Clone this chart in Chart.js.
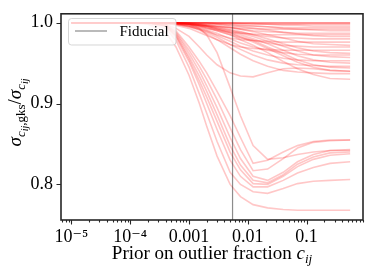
<!DOCTYPE html>
<html>
<head>
<meta charset="utf-8">
<script src="https://cdn.jsdelivr.net/npm/chart.js@4.4.1/dist/chart.umd.min.js"></script>
<style>html,body{margin:0;padding:0;background:#fff}</style>
</head>
<body>
<canvas id="ratioChart" width="374" height="273"></canvas>
<script>
// prior on outlier fraction (x grid)
var priors = [1e-5, 1e-4, 2e-4, 4e-4, 6e-4, 0.001, 0.0015, 0.002, 0.003, 0.005, 0.0075, 0.0123, 0.0217, 0.04, 0.07, 0.13, 0.25, 0.55];
var fiducialPrior = 0.0055;

var xTickValues = [1e-5, 1e-4, 1e-3, 1e-2, 1e-1];
var xTickLabels = ['10\u207B\u2075', '10\u207B\u2074', '0.001', '0.01', '0.1'];
var yTickValues = [0.8, 0.9, 1.0];
var yTickLabels = ['0.8', '0.9', '1.0'];

// pairs that barely move
var upperRatios = [
    [1,1,1,1,1,1,1,1,1,1,1,1,1,1,1,1,1,1],
    [1,1,1,1,1,1,1,1,1,1,1,1,1,1,1,1,1,1],
    [1,1,1,1,1,1,1,1,1,1,0.999,0.999,0.999,0.999,0.999,0.999,0.999,0.999],
    [1,1,1,1,1,1,1,1,0.999,0.999,0.999,0.999,0.998,0.998,0.998,0.998,0.998,0.998],
    [1,1,1,1,1,1,1,1,0.999,0.999,0.999,0.998,0.998,0.997,0.997,0.996,0.996,0.996],
    [1,1,1,1,1,1,0.999,0.999,0.998,0.997,0.996,0.996,0.995,0.994,0.994,0.994,0.994,0.994],
    [1,1,1,1,0.999,0.998,0.997,0.996,0.995,0.994,0.993,0.993,0.992,0.992,0.992,0.992,0.992,0.992],
    [1,1,1,1,1,1,0.999,0.999,0.999,0.998,0.997,0.996,0.995,0.993,0.992,0.991,0.990,0.990],
    [1,1,1,1,1,0.999,0.998,0.997,0.996,0.994,0.992,0.990,0.989,0.988,0.987,0.987,0.987,0.987],
    [1,1,1,1,0.999,0.997,0.995,0.993,0.991,0.988,0.987,0.986,0.985,0.985,0.985,0.985,0.985,0.985],
    [1,1,1,1,1,0.999,0.999,0.998,0.998,0.996,0.995,0.993,0.991,0.988,0.986,0.984,0.983,0.983],
    [1,1,1,1,0.999,0.998,0.997,0.996,0.993,0.990,0.988,0.985,0.983,0.981,0.981,0.980,0.980,0.980],
    [1,1,1,0.999,0.998,0.995,0.992,0.989,0.985,0.981,0.979,0.978,0.977,0.976,0.976,0.976,0.976,0.976],
    [1,1,1,1,1,0.999,0.998,0.997,0.996,0.994,0.992,0.989,0.985,0.981,0.977,0.974,0.973,0.972],
    [1,1,1,1,0.999,0.998,0.996,0.993,0.990,0.985,0.981,0.978,0.975,0.972,0.971,0.970,0.970,0.970],
    [1,1,1,0.999,0.997,0.993,0.988,0.984,0.979,0.973,0.970,0.968,0.967,0.966,0.966,0.966,0.966,0.966],
    [1,1,1,1,1,0.999,0.998,0.997,0.995,0.992,0.989,0.985,0.980,0.974,0.969,0.965,0.963,0.962],
    [1,1,1,1,0.999,0.997,0.994,0.991,0.987,0.980,0.975,0.970,0.966,0.963,0.961,0.960,0.960,0.960],
    [1,1,1,1,1,0.999,0.997,0.996,0.994,0.991,0.987,0.983,0.977,0.971,0.965,0.960,0.958,0.957],
    [1,1,1,1,0.999,0.996,0.993,0.990,0.984,0.977,0.971,0.965,0.960,0.956,0.954,0.953,0.953,0.953],
    [1,1,1,1,1,0.999,0.997,0.996,0.993,0.989,0.985,0.980,0.974,0.966,0.959,0.954,0.951,0.950],
    [1,1,1,0.999,0.998,0.996,0.992,0.988,0.982,0.973,0.967,0.960,0.954,0.950,0.948,0.947,0.946,0.946],
    [1,1,1,1,0.999,0.998,0.997,0.995,0.992,0.988,0.983,0.978,0.970,0.962,0.954,0.948,0.945,0.944],
    [1,1,1,1,0.999,0.998,0.996,0.995,0.992,0.987,0.982,0.976,0.968,0.959,0.951,0.945,0.941,0.940],
    [1,1,1,0.999,0.998,0.995,0.991,0.986,0.979,0.969,0.961,0.953,0.946,0.941,0.939,0.938,0.937,0.937],
    [1,1,1,1,0.999,0.998,0.996,0.994,0.990,0.985,0.979,0.972,0.963,0.952,0.943,0.936,0.931,0.930],
    [1,1,1,0.998,0.993,0.983,0.970,0.960,0.948,0.938,0.934,0.933,0.938,0.943,0.944,0.943,0.941,0.940]
];

// pairs that drop a lot around the fiducial prior
var lowerRatios = [
    [1,1,1,1,1,0.998,0.993,0.985,0.963,0.920,0.885,0.848,0.831,0.833,0.837,0.840,0.842,0.842],
    [1,1,1,0.998,0.990,0.970,0.952,0.938,0.915,0.885,0.858,0.826,0.830,0.840,0.848,0.853,0.855,0.855],
    [1,1,1,0.997,0.988,0.966,0.946,0.930,0.905,0.870,0.843,0.817,0.819,0.832,0.845,0.852,0.854,0.855],
    [1,1,1,0.997,0.987,0.962,0.940,0.922,0.895,0.858,0.832,0.810,0.805,0.815,0.828,0.837,0.842,0.843],
    [1,1,1,0.996,0.985,0.958,0.934,0.915,0.886,0.848,0.824,0.805,0.802,0.812,0.825,0.834,0.839,0.840],
    [1,1,1,0.996,0.984,0.955,0.928,0.908,0.878,0.840,0.818,0.801,0.800,0.810,0.822,0.831,0.836,0.838],
    [1,1,1,0.995,0.982,0.952,0.923,0.900,0.868,0.830,0.810,0.797,0.797,0.805,0.814,0.821,0.826,0.828],
    [1,1,0.999,0.993,0.978,0.945,0.912,0.888,0.853,0.815,0.800,0.791,0.789,0.795,0.801,0.804,0.805,0.806],
    [1,1,0.998,0.988,0.970,0.935,0.900,0.872,0.835,0.800,0.785,0.775,0.771,0.769,0.768,0.768,0.768,0.768]
];

var lineColor = 'rgba(255,0,0,0.22)';
var serif = "'Liberation Serif', 'DejaVu Serif', serif";

function makeDataset(values)
{
    return {
        data: values.map(function(v, i){ return {x: priors[i], y: v}; }),
        borderColor: lineColor,
        borderWidth: 1.6,
        pointRadius: 0,
        tension: 0,
        fill: false
    };
}

var datasets = [{
    label: 'Fiducial',
    data: [{x: fiducialPrior, y: 0.7}, {x: fiducialPrior, y: 1.1}],
    borderColor: 'rgba(0,0,0,0.45)',
    borderWidth: 1.2,
    pointRadius: 0,
    fill: false
}];
upperRatios.forEach(function(r){ datasets.push(makeDataset(r)); });
lowerRatios.forEach(function(r){ datasets.push(makeDataset(r)); });

// draws text pieces in a row: [text, font, baseline shift]
function drawPieces(ctx, pieces, cx, baseY)
{
    var total = 0;
    pieces.forEach(function(p){ ctx.font = p[1]; total += ctx.measureText(p[0]).width; });
    var x = cx - total / 2;
    ctx.textAlign = 'left';
    ctx.textBaseline = 'alphabetic';
    pieces.forEach(function(p){
        ctx.font = p[1];
        ctx.fillText(p[0], x, baseY + p[2]);
        x += ctx.measureText(p[0]).width;
    });
}

var decorPlugin = {
    id: 'decor',
    afterDraw: function(chart){
        var ctx = chart.ctx, a = chart.chartArea;
        var xs = chart.scales.x, ys = chart.scales.y;
        ctx.save();

        // frame
        ctx.strokeStyle = '#262626';
        ctx.lineWidth = 1.6;
        ctx.strokeRect(a.left, a.top, a.right - a.left, a.bottom - a.top);

        // tick marks
        ctx.lineWidth = 1.1;
        ctx.beginPath();
        xTickValues.forEach(function(v){
            var p = Math.round(xs.getPixelForValue(v)) + 0.5;
            ctx.moveTo(p, a.bottom); ctx.lineTo(p, a.bottom + 4.5);
        });
        for (var d = -6; d <= -1; d++) {
            for (var m = 2; m <= 9; m++) {
                var v = m * Math.pow(10, d);
                if (v < xs.min || v > xs.max) continue;
                var p = Math.round(xs.getPixelForValue(v)) + 0.5;
                ctx.moveTo(p, a.bottom); ctx.lineTo(p, a.bottom + 2.5);
            }
        }
        yTickValues.forEach(function(v){
            var p = Math.round(ys.getPixelForValue(v)) + 0.5;
            ctx.moveTo(a.left, p); ctx.lineTo(a.left - 4.5, p);
        });
        ctx.stroke();

        // legend box
        ctx.beginPath();
        ctx.roundRect(68.5, 18.5, 107.5, 26.5, 3);
        ctx.fillStyle = 'rgba(255,255,255,0.8)';
        ctx.fill();
        ctx.strokeStyle = 'rgba(204,204,204,0.8)';
        ctx.lineWidth = 1;
        ctx.stroke();
        ctx.beginPath();
        ctx.moveTo(75, 31); ctx.lineTo(107, 31);
        ctx.strokeStyle = 'rgba(0,0,0,0.45)';
        ctx.lineWidth = 1.2;
        ctx.stroke();
        ctx.fillStyle = '#000';
        ctx.font = '15px ' + serif;
        ctx.textAlign = 'left';
        ctx.textBaseline = 'alphabetic';
        ctx.fillText('Fiducial', 119.5, 36);

        // axis titles
        ctx.fillStyle = '#000';
        drawPieces(ctx, [
            ['Prior on outlier fraction ', '19px ' + serif, 0],
            ['c', 'italic 19px ' + serif, 0],
            ['ij', 'italic 13px ' + serif, 4]
        ], (a.left + a.right) / 2, 259);

        ctx.save();
        ctx.translate(20.5, 112.5);
        ctx.rotate(-Math.PI / 2);
        drawPieces(ctx, [
            ['\u03C3', 'italic 19px ' + serif, 0],
            ['c', 'italic 13px ' + serif, 4],
            ['ij', 'italic 10px ' + serif, 7],
            [',gks', '13px ' + serif, 4],
            ['/', '19px ' + serif, 0],
            ['\u03C3', 'italic 19px ' + serif, 0],
            ['c', 'italic 13px ' + serif, 4],
            ['ij', 'italic 10px ' + serif, 7]
        ], 0, 0);
        ctx.restore();

        ctx.restore();
    }
};

var chart = new Chart(document.getElementById('ratioChart'), {
    type: 'line',
    data: { datasets: datasets },
    plugins: [decorPlugin],
    options: {
        responsive: false,
        animation: false,
        devicePixelRatio: 1,
        layout: { padding: { top: 11, right: 11, left: 0, bottom: 0 } },
        plugins: { legend: { display: false }, tooltip: { enabled: false } },
        scales: {
            x: {
                type: 'logarithmic',
                min: 6.65e-6,
                max: 0.91,
                afterBuildTicks: function(s){ s.ticks = xTickValues.map(function(v){ return {value: v}; }); },
                afterFit: function(s){ s.height = 53; },
                grid: { display: false, drawTicks: true, tickLength: 5 },
                border: { display: false },
                ticks: {
                    autoSkip: false, maxRotation: 0, padding: 1, color: '#000',
                    font: { family: serif, size: 18 },
                    callback: function(v){ var i = xTickValues.indexOf(v); return i < 0 ? '' : xTickLabels[i]; }
                }
            },
            y: {
                min: 0.756,
                max: 1.011,
                afterBuildTicks: function(s){ s.ticks = yTickValues.map(function(v){ return {value: v}; }); },
                afterFit: function(s){ s.width = 61; },
                grid: { display: false, drawTicks: true, tickLength: 5 },
                border: { display: false },
                ticks: {
                    padding: 3, color: '#000',
                    font: { family: serif, size: 18 },
                    callback: function(v){ var i = yTickValues.indexOf(v); return i < 0 ? '' : yTickLabels[i]; }
                }
            }
        }
    }
});
</script>
</body>
</html>
